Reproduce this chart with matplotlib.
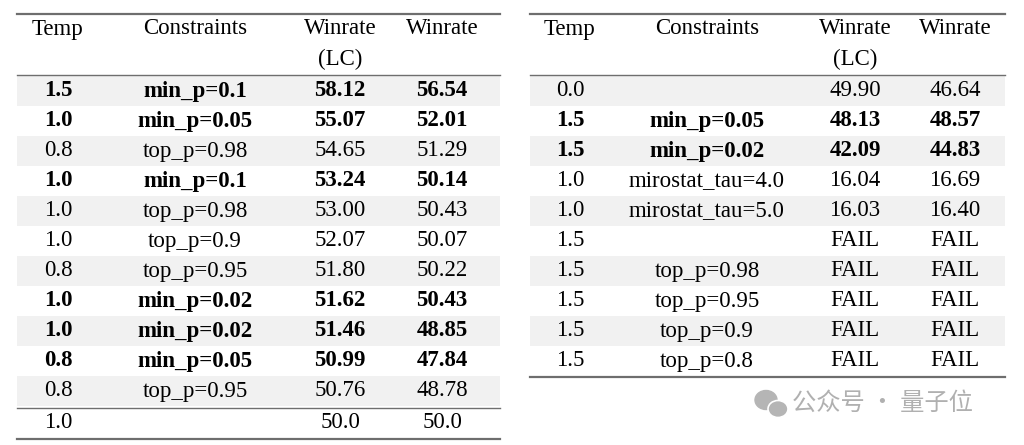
import matplotlib.pyplot as plt
from matplotlib.patches import Rectangle, Ellipse

headers = ["Temp", "Constraints", "Winrate", "Winrate"]
header2 = ["", "", "(LC)", ""]
left_temp = ["1.5","1.0","0.8","1.0","1.0","1.0","0.8","1.0","1.0","0.8","0.8","1.0"]
left_cons = ["min_p=0.1","min_p=0.05","top_p=0.98","min_p=0.1","top_p=0.98","top_p=0.9","top_p=0.95","min_p=0.02","min_p=0.02","min_p=0.05","top_p=0.95",""]
left_lc = ["58.12","55.07","54.65","53.24","53.00","52.07","51.80","51.62","51.46","50.99","50.76","50.0"]
left_wr = ["56.54","52.01","51.29","50.14","50.43","50.07","50.22","50.43","48.85","47.84","48.78","50.0"]
left_bold = [1,1,0,1,0,0,0,1,1,1,0,0]

right_temp = ["0.0","1.5","1.5","1.0","1.0","1.5","1.5","1.5","1.5","1.5"]
right_cons = ["","min_p=0.05","min_p=0.02","mirostat_tau=4.0","mirostat_tau=5.0","","top_p=0.98","top_p=0.95","top_p=0.9","top_p=0.8"]
right_lc = ["49.90","48.13","42.09","16.04","16.03","FAIL","FAIL","FAIL","FAIL","FAIL"]
right_wr = ["46.64","48.57","44.83","16.69","16.40","FAIL","FAIL","FAIL","FAIL","FAIL"]
right_bold = [0,1,1,0,0,0,0,0,0,0]

fig = plt.figure(figsize=(10.24, 4.45), dpi=100)
ax = fig.add_axes([0, 0, 1, 1])
ax.set_xlim(0, 1024); ax.set_ylim(445, 0); ax.axis("off")
FONT = "Liberation Serif"
FS = 16.5
LC = "#6e6e6e"

def table(x0, x1, cols, temp, cons, lc, wr, bold, sep_before=None):
    ax.plot([x0, x1], [14, 14], color=LC, lw=1.6)
    ax.plot([x0, x1], [75, 75], color=LC, lw=1.0)
    for c, h, h2 in zip(cols, headers, header2):
        ax.text(c, 29, h, ha="center", va="center", fontsize=FS, family=FONT)
        ax.text(c, 59, h2, ha="center", va="center", fontsize=FS, family=FONT)
    y = 76
    for i in range(len(temp)):
        if sep_before is not None and i == sep_before:
            ax.plot([x0, x1], [y + 2, y + 2], color=LC, lw=1.0)
            y += 2
        if i % 2 == 0 and i != sep_before:
            ax.add_patch(Rectangle((x0, y), x1 - x0, 30, color="#f1f1f1", lw=0))
        w = "bold" if bold[i] else "normal"
        for c, v in zip(cols, [temp[i], cons[i], lc[i], wr[i]]):
            ax.text(c, y + 15, v, ha="center", va="center", fontsize=FS, family=FONT, weight=w)
        y += 30
    ax.plot([x0, x1], [y + 1, y + 1], color=LC, lw=1.6)

table(17, 500, [58, 195, 340, 442], left_temp, left_cons, left_lc, left_wr, left_bold, sep_before=11)
table(530, 1005, [570, 707, 855, 955], right_temp, right_cons, right_lc, right_wr, right_bold)

ax.add_patch(Ellipse((766, 400), 22, 19, color="#b5b5b5"))
ax.add_patch(Ellipse((778, 409), 20, 17, color="#b5b5b5", ec="white", lw=1.2))
ax.text(792, 403, "公众号 · 量子位", ha="left", va="center", fontsize=17.5,
        family=["Noto Sans CJK SC", "DejaVu Sans"], color="#b0b0b0")
fig.savefig("out.png", dpi=100)
